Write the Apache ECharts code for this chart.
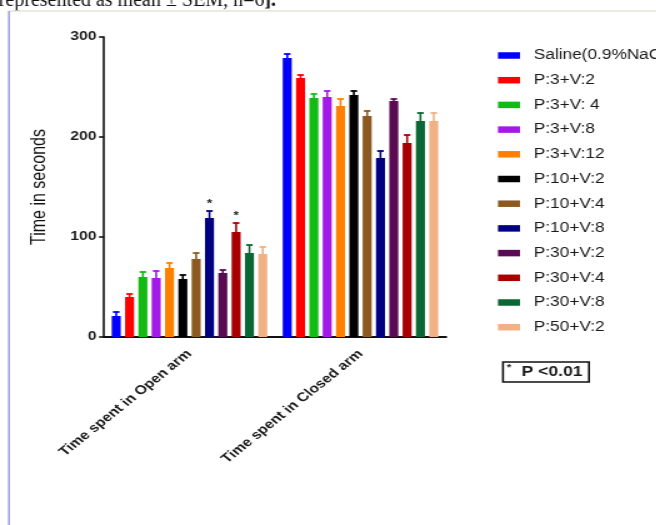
<!DOCTYPE html>
<html>
<head>
<meta charset="utf-8">
<script src="https://cdn.jsdelivr.net/npm/echarts@6/dist/echarts.min.js"></script>
<style>
  html, body { margin: 0; padding: 0; background: #ffffff; overflow: hidden; }
  /* the figure is laid out on a 525px square and widened to the page width */
  #chart { width: 525px; height: 525px; transform: scaleX(1.25); transform-origin: 0 0; }
</style>
</head>
<body>
<div id="chart"></div>
<script>
// ---- data ----
const categories = ['Time spent in Open arm', 'Time spent in Closed arm'];
const groups = ['Saline(0.9%NaCl)', 'P:3+V:2', 'P:3+V: 4', 'P:3+V:8', 'P:3+V:12', 'P:10+V:2',
                'P:10+V:4', 'P:10+V:8', 'P:30+V:2', 'P:30+V:4', 'P:30+V:8', 'P:50+V:2'];
const openArmMean   = [21, 40, 60, 59, 69, 58, 78, 119, 64, 105, 84, 83];
const openArmSEM    = [4, 3, 5, 7, 5, 4, 6, 7, 3, 9, 8, 7];
const closedArmMean = [279, 259, 239, 240, 231, 242, 221, 179, 236, 194, 216, 216];
const closedArmSEM  = [4, 3, 4, 6, 7, 4, 5, 7, 2, 8, 8, 8];
const significantInOpenArm = ['P:10+V:8', 'P:30+V:4'];
const yTicks = [0, 100, 200, 300];
const yTitle = 'Time in seconds';
const noteText = 'P <0.01';
const captionText = 'represented as mean \u00b1 SEM, n=6';

// ---- styling ----
const colors = ['#0000ff', '#ff0000', '#11bb11', '#a31ae6', '#ff8000', '#000000',
                '#8c5a20', '#000080', '#5a0a52', '#a80000', '#0a6633', '#f0b284'];
const SANS = '"Liberation Sans", Arial, Helvetica, sans-serif';
const BAR_WIDTH = 7.2;
const BAR_GAP = 0.48;
const PITCH = BAR_WIDTH * (1 + BAR_GAP);

const seriesMeans = [openArmMean, closedArmMean];
const seriesSEM = [openArmSEM, closedArmSEM];

const barSeries = groups.map((name, gi) => ({
  name: name,
  type: 'bar',
  barWidth: BAR_WIDTH,
  barGap: (BAR_GAP * 100) + '%',
  itemStyle: { color: colors[gi] },
  data: categories.map((c, ci) => seriesMeans[ci][gi]),
  z: 2
}));

const errorData = [];
categories.forEach((c, ci) => {
  groups.forEach((g, gi) => {
    const mean = seriesMeans[ci][gi];
    const flag = (ci === 0 && significantInOpenArm.indexOf(g) >= 0) ? 1 : 0;
    errorData.push([ci, gi, mean, mean + seriesSEM[ci][gi], flag]);
  });
});

const errorSeries = {
  type: 'custom',
  name: 'SEM',
  encode: { x: 0, y: 3 },
  z: 3,
  silent: true,
  renderItem: function (params, api) {
    const ci = api.value(0);
    const gi = api.value(1);
    const base = api.coord([ci, api.value(2)]);
    const top = api.coord([ci, api.value(3)]);
    const x = base[0] + (gi - (groups.length - 1) / 2) * PITCH;
    const color = colors[gi];
    const children = [
      { type: 'line', shape: { x1: x, y1: base[1], x2: x, y2: top[1] },
        style: { stroke: color, lineWidth: 1.6 } },
      { type: 'line', shape: { x1: x - 2.6, y1: top[1], x2: x + 2.6, y2: top[1] },
        style: { stroke: color, lineWidth: 1.8 } }
    ];
    if (api.value(4)) {
      children.push({ type: 'text', x: x, y: top[1] - 7,
        style: { text: '*', font: 'bold 11px ' + SANS, fill: '#222',
                 align: 'center', verticalAlign: 'middle' } });
    }
    return { type: 'group', children: children };
  },
  data: errorData
};

const chart = echarts.init(document.getElementById('chart'));
chart.setOption({
  backgroundColor: '#ffffff',
  animation: false,
  grid: { left: 83.2, right: 168.2, top: 37, bottom: 188 },
  legend: {
    orient: 'vertical',
    left: 393.4,
    top: 43.5,
    itemWidth: 17.6,
    itemHeight: 6.5,
    itemGap: 10.7,
    icon: 'rect',
    data: groups,
    textStyle: { fontFamily: SANS, fontSize: 13.8, color: '#1a1a1a', lineHeight: 14, padding: [0, 0, 0, 6] }
  },
  xAxis: {
    type: 'category',
    data: categories,
    axisLine: { lineStyle: { color: '#111', width: 2 } },
    axisTick: { alignWithLabel: true, length: 4, lineStyle: { color: '#111', width: 1.6 } },
    axisLabel: { rotate: 45, margin: 15, fontFamily: SANS, fontWeight: 'bold', fontSize: 12.7, color: '#1a1a1a' },
    splitLine: { show: false }
  },
  yAxis: {
    type: 'value',
    min: yTicks[0],
    max: yTicks[yTicks.length - 1],
    interval: yTicks[1] - yTicks[0],
    name: yTitle,
    nameLocation: 'middle',
    nameGap: 44,
    nameRotate: 90,
    nameTextStyle: { fontFamily: SANS, fontSize: 16, color: '#111' },
    axisLine: { show: true, lineStyle: { color: '#111', width: 1.6 } },
    axisTick: { show: true, length: 4, lineStyle: { color: '#111', width: 1.6 } },
    axisLabel: { margin: 6, fontFamily: SANS, fontWeight: 'bold', fontSize: 12.5, color: '#1a1a1a' },
    splitLine: { show: false }
  },
  graphic: [
    // page caption above the figure panel
    { type: 'text', x: -1, y: 1, scaleX: 0.8,
      style: { text: captionText + '{b|].}', font: '20px "Liberation Serif", "Times New Roman", serif',
               fill: '#111', verticalAlign: 'middle',
               rich: { b: { fontWeight: 'bold', fontSize: 20, fontFamily: '"Liberation Serif", serif' } } } },
    // panel frame
    { type: 'line', shape: { x1: 7.2, y1: 11, x2: 525, y2: 11 }, style: { stroke: '#e4e4d6', lineWidth: 1.5 } },
    { type: 'line', shape: { x1: 7.2, y1: 11, x2: 7.2, y2: 525 }, style: { stroke: '#9ea4e6', lineWidth: 1.6 } },
    // significance note
    { type: 'rect', shape: { x: 402.4, y: 362, width: 68.8, height: 20 },
      style: { fill: '#fff', stroke: '#111', lineWidth: 1.6 } },
    { type: 'text', x: 405.5, y: 368, style: { text: '*', font: 'bold 9px ' + SANS, fill: '#222',
      align: 'left', verticalAlign: 'middle' } },
    { type: 'text', x: 417.3, y: 372.5, style: { text: noteText, font: 'bold 14px ' + SANS, fill: '#1a1a1a',
      align: 'left', verticalAlign: 'middle' } }
  ],
  series: barSeries.concat([errorSeries])
});
</script>
</body>
</html>
